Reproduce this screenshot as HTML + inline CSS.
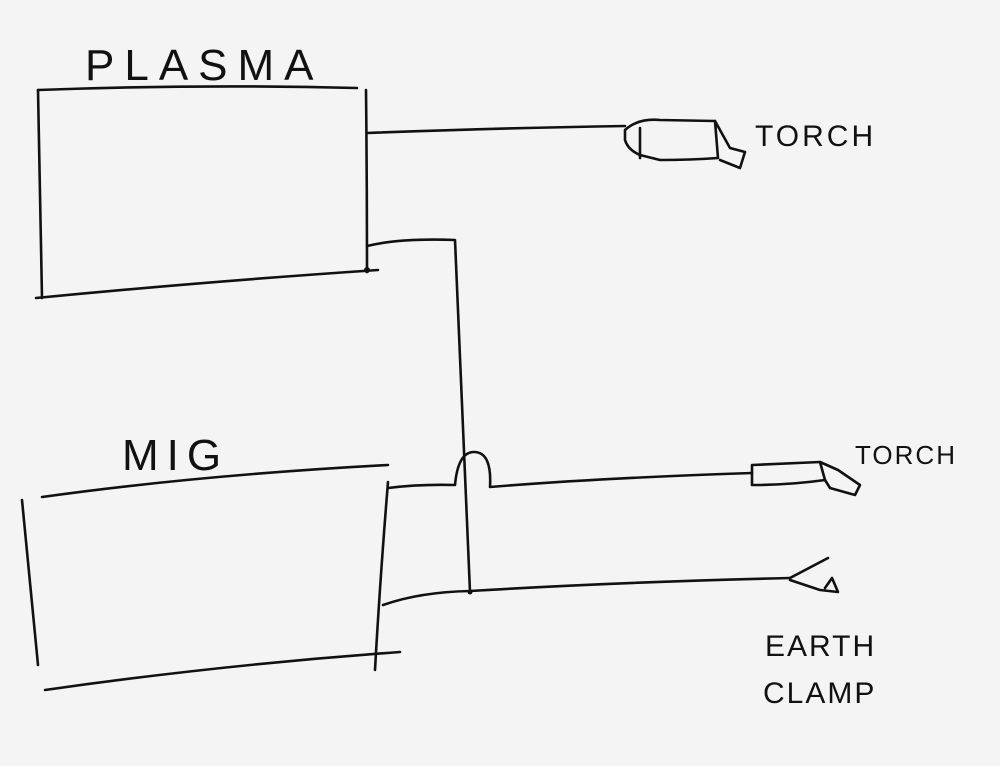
<!DOCTYPE html>
<html><head><meta charset="utf-8"><style>
html,body{margin:0;padding:0;background:#f4f4f4;}
svg{display:block}
text{font-family:"Liberation Sans",sans-serif;fill:#111;}
</style></head><body>
<svg width="1000" height="766" viewBox="0 0 1000 766" xmlns="http://www.w3.org/2000/svg">
<rect width="1000" height="766" fill="#f4f4f4"/>
<g fill="none" stroke="#111" stroke-width="2.6" stroke-linecap="round" stroke-linejoin="round">
<path d="M38,90 Q200,84 357,88"/>
<path d="M38,90 Q40,200 42,298"/>
<path d="M36,298 Q200,282 378,270"/>
<path d="M366,90 Q367,180 367,272"/>
<path d="M367,133 Q500,128 625,126"/>
<path d="M625,130 Q638,118 660,120 L715,121 L718,158 Q690,160 660,160 L640,155 Q628,150 625,140 Z"/>
<path d="M715,121 L730,148 L745,152 L740,168 L720,160"/>
<path d="M640,128 L640,158"/>
<path d="M367,246 Q400,238 455,240 Q462,400 470,592"/>
<path d="M42,497 Q200,475 388,465"/>
<path d="M22,500 Q30,580 38,665"/>
<path d="M45,690 Q220,665 400,652"/>
<path d="M388,482 Q380,580 375,670"/>
<path d="M388,488 Q420,484 455,485 Q458,452 474,452 Q492,452 490,487 Q600,478 752,473"/>
<path d="M752,465 L820,462 L825,480 Q790,485 752,485 Z"/>
<path d="M820,462 L838,470 L860,485 L855,495 L830,488 L825,480"/>
<path d="M383,605 Q420,592 470,591 Q620,582 790,578"/>
<path d="M790,578 L828,558"/>
<path d="M790,580 L820,590 L838,592 L832,578 L825,588"/>
</g>
<circle cx="367" cy="270" r="3" fill="#111"/>
<circle cx="470" cy="592" r="2.5" fill="#111"/>
<text x="85" y="80" font-size="44" letter-spacing="10">PLASMA</text>
<text x="755" y="146" font-size="30" letter-spacing="3">TORCH</text>
<text x="122" y="470" font-size="44" letter-spacing="8">MIG</text>
<text x="855" y="464" font-size="26" letter-spacing="2">TORCH</text>
<text x="765" y="656" font-size="30" letter-spacing="2">EARTH</text>
<text x="763" y="703" font-size="30" letter-spacing="2">CLAMP</text>
</svg>
</body></html>
